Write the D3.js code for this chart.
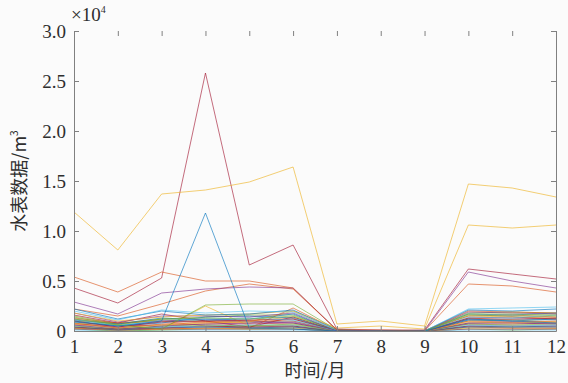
<!DOCTYPE html>
<html>
<head>
<meta charset="utf-8">
<script src="https://cdn.jsdelivr.net/npm/d3@7"></script>
<style>
  body { margin: 0; background: #fbfbfb; }
  svg { display: block; }
  .tick text { font-family: "Liberation Serif", "DejaVu Serif", serif; font-size: 19px; fill: #2e2e2e; }
</style>
</head>
<body>
<div id="content"></div>
<script>
// months on the x axis
var months = [1, 2, 3, 4, 5, 6, 7, 8, 9, 10, 11, 12];
var yTicks = [0, 0.5, 1.0, 1.5, 2.0, 2.5, 3.0];
var yTickLabels = ['0', '0.5', '1.0', '1.5', '2.0', '2.5', '3.0'];

// water meter readings, unit 10^4 m3
var meterBlueSpike   = [0.10, 0.05, 0.10, 1.18, 0.03, 0.02, 0.00, 0.00, 0.00, 0.12, 0.10, 0.08];
var meterOrange      = [0.54, 0.39, 0.59, 0.50, 0.50, 0.43, 0.01, 0.01, 0.00, 0.47, 0.45, 0.39];
var meterYellowTop   = [1.19, 0.81, 1.37, 1.41, 1.49, 1.64, 0.07, 0.10, 0.05, 1.47, 1.43, 1.34];
var meterPurple      = [0.29, 0.17, 0.38, 0.42, 0.44, 0.43, 0.01, 0.00, 0.00, 0.59, 0.50, 0.43];
var meterGreen       = [0.12, 0.06, 0.02, 0.26, 0.27, 0.27, 0.01, 0.00, 0.00, 0.17, 0.17, 0.16];
var meterLightBlue   = [0.20, 0.11, 0.21, 0.18, 0.20, 0.19, 0.01, 0.00, 0.00, 0.22, 0.23, 0.24];
var meterRedSpike    = [0.43, 0.28, 0.53, 2.58, 0.66, 0.86, 0.02, 0.01, 0.01, 0.62, 0.57, 0.52];
var meterBlue2       = [0.22, 0.12, 0.20, 0.16, 0.17, 0.21, 0.01, 0.00, 0.00, 0.21, 0.20, 0.22];
var meterOrange2     = [0.22, 0.15, 0.27, 0.40, 0.47, 0.42, 0.01, 0.00, 0.00, 0.20, 0.19, 0.18];
var meterYellow2     = [0.18, 0.10, 0.14, 0.16, 0.17, 0.20, 0.03, 0.05, 0.02, 1.06, 1.03, 1.06];

var lowSeries = [
  [0.18, 0.09, 0.15, 0.15, 0.14, 0.18, 0.00, 0.00, 0.00, 0.19, 0.18, 0.17],
  [0.14, 0.06, 0.12, 0.13, 0.12, 0.15, 0.01, 0.00, 0.00, 0.16, 0.15, 0.15],
  [0.12, 0.05, 0.11, 0.12, 0.13, 0.11, 0.00, 0.00, 0.00, 0.14, 0.13, 0.16],
  [0.10, 0.04, 0.09, 0.10, 0.11, 0.12, 0.00, 0.00, 0.00, 0.12, 0.12, 0.13],
  [0.09, 0.05, 0.08, 0.14, 0.15, 0.13, 0.00, 0.00, 0.00, 0.11, 0.10, 0.12],
  [0.08, 0.03, 0.07, 0.09, 0.10, 0.10, 0.00, 0.00, 0.00, 0.10, 0.09, 0.10],
  [0.07, 0.03, 0.06, 0.08, 0.09, 0.20, 0.00, 0.00, 0.00, 0.09, 0.08, 0.09],
  [0.06, 0.02, 0.05, 0.07, 0.08, 0.09, 0.00, 0.00, 0.00, 0.08, 0.08, 0.07],
  [0.05, 0.02, 0.05, 0.06, 0.05, 0.07, 0.00, 0.00, 0.00, 0.07, 0.06, 0.07],
  [0.05, 0.03, 0.04, 0.05, 0.06, 0.06, 0.00, 0.00, 0.00, 0.06, 0.05, 0.06],
  [0.04, 0.02, 0.03, 0.05, 0.04, 0.05, 0.00, 0.00, 0.00, 0.05, 0.05, 0.05],
  [0.04, 0.01, 0.03, 0.04, 0.03, 0.04, 0.00, 0.00, 0.00, 0.04, 0.04, 0.04],
  [0.03, 0.01, 0.02, 0.03, 0.03, 0.04, 0.00, 0.00, 0.00, 0.04, 0.03, 0.03],
  [0.03, 0.01, 0.02, 0.03, 0.02, 0.03, 0.00, 0.00, 0.00, 0.03, 0.03, 0.03],
  [0.02, 0.01, 0.02, 0.02, 0.02, 0.02, 0.00, 0.00, 0.00, 0.02, 0.02, 0.02],
  [0.02, 0.00, 0.01, 0.02, 0.02, 0.02, 0.00, 0.00, 0.00, 0.02, 0.01, 0.02],
  [0.01, 0.00, 0.01, 0.01, 0.01, 0.01, 0.00, 0.00, 0.00, 0.01, 0.01, 0.01],
  [0.16, 0.08, 0.17, 0.10, 0.04, 0.14, 0.00, 0.00, 0.00, 0.13, 0.14, 0.12],
  [0.11, 0.07, 0.13, 0.11, 0.12, 0.17, 0.00, 0.00, 0.00, 0.17, 0.16, 0.18],
  [0.13, 0.08, 0.10, 0.05, 0.03, 0.23, 0.01, 0.00, 0.00, 0.15, 0.16, 0.14],
  [0.08, 0.06, 0.02, 0.25, 0.05, 0.06, 0.00, 0.00, 0.00, 0.10, 0.11, 0.09],
  [0.06, 0.04, 0.10, 0.12, 0.10, 0.08, 0.00, 0.00, 0.00, 0.08, 0.09, 0.08],
  [0.15, 0.07, 0.12, 0.14, 0.16, 0.16, 0.00, 0.00, 0.00, 0.18, 0.19, 0.18],
  [0.09, 0.06, 0.09, 0.11, 0.09, 0.10, 0.00, 0.00, 0.00, 0.11, 0.12, 0.11],
  [0.07, 0.05, 0.06, 0.07, 0.07, 0.08, 0.00, 0.00, 0.00, 0.07, 0.07, 0.08],
  [0.03, 0.02, 0.04, 0.04, 0.05, 0.05, 0.00, 0.00, 0.00, 0.05, 0.04, 0.05],
  [0.12, 0.07, 0.11, 0.09, 0.08, 0.12, 0.00, 0.00, 0.00, 0.13, 0.11, 0.12],
  [0.10, 0.08, 0.12, 0.10, 0.10, 0.14, 0.00, 0.00, 0.00, 0.15, 0.14, 0.13]
];

// matlab default colour order
var lineColors = ['#0072BD', '#D95319', '#EDB120', '#7E2F8E', '#77AC30', '#4DBEEE', '#A2142F'];

var allSeries = [meterBlueSpike, meterOrange, meterYellowTop, meterPurple, meterGreen,
  meterLightBlue, meterRedSpike, meterBlue2, meterOrange2, meterYellow2].concat(lowSeries);

var width = 568, height = 383;
var plotLeft = 74, plotRight = 556, plotTop = 31, plotBottom = 331;

var svg = d3.select('#content').append('svg')
  .attr('width', width)
  .attr('height', height);

var x = d3.scaleLinear().domain([1, 12]).range([plotLeft, plotRight]);
var y = d3.scaleLinear().domain([0, 3]).range([plotBottom, plotTop]);

var axisColor = '#808080';

// lines (draw the low ones first so the big ones sit on top)
var line = d3.line()
  .x(function(d, i) { return x(months[i]); })
  .y(function(d) { return y(d); });

var drawOrder = d3.range(allSeries.length).reverse();
svg.append('g')
  .attr('class', 'lines')
  .selectAll('path')
  .data(drawOrder)
  .enter().append('path')
  .attr('d', function(i) { return line(allSeries[i]); })
  .attr('fill', 'none')
  .attr('stroke', function(i) { return lineColors[i % lineColors.length]; })
  .attr('stroke-opacity', 0.62)
  .attr('stroke-width', 1);

// axes
var xAxis = svg.append('g')
  .attr('transform', 'translate(0,' + plotBottom + ')')
  .call(d3.axisBottom(x).tickValues(months).tickFormat(d3.format('d'))
    .tickSizeInner(-5).tickSizeOuter(0).tickPadding(8));

var xTop = svg.append('g')
  .attr('transform', 'translate(0,' + plotTop + ')')
  .call(d3.axisTop(x).tickValues(months).tickFormat('')
    .tickSizeInner(-5).tickSizeOuter(0));
xTop.select('.domain').remove();

var yAxis = svg.append('g')
  .attr('transform', 'translate(' + plotLeft + ',0)')
  .call(d3.axisLeft(y).tickValues(yTicks)
    .tickFormat(function(d, i) { return yTickLabels[i]; })
    .tickSizeInner(-5).tickSizeOuter(0).tickPadding(8));

var yRight = svg.append('g')
  .attr('transform', 'translate(' + plotRight + ',0)')
  .call(d3.axisRight(y).tickValues(yTicks).tickFormat('')
    .tickSizeInner(-5).tickSizeOuter(0));

[xAxis, xTop, yAxis, yRight].forEach(function(a) {
  a.selectAll('.domain').attr('stroke', axisColor);
  a.selectAll('.tick line').attr('stroke', axisColor);
});
xAxis.selectAll('.tick text').attr('dy', '0.75em');

// exponent label
var expo = svg.append('text')
  .attr('x', 71)
  .attr('y', 21)
  .style('font-family', '"Liberation Serif", serif')
  .style('font-size', '19px')
  .style('fill', '#2e2e2e');
expo.append('tspan').text('×10');
expo.append('tspan').attr('dy', -8).style('font-size', '10px').text('4');

// axis titles
svg.append('text')
  .attr('x', (plotLeft + plotRight) / 2)
  .attr('y', 377)
  .attr('text-anchor', 'middle')
  .style('font-family', '"Noto Sans CJK SC", sans-serif')
  .style('font-size', '18px')
  .style('fill', '#2e2e2e')
  .text('时间/月');

var yTitle = svg.append('text')
  .attr('transform', 'translate(26,' + ((plotTop + plotBottom) / 2) + ') rotate(-90)')
  .attr('text-anchor', 'middle')
  .style('font-family', '"Noto Sans CJK SC", sans-serif')
  .style('font-size', '18px')
  .style('fill', '#2e2e2e');
yTitle.append('tspan').text('水表数据/m');
yTitle.append('tspan').attr('dy', -8).style('font-size', '10px').text('3');
</script>
</body>
</html>
